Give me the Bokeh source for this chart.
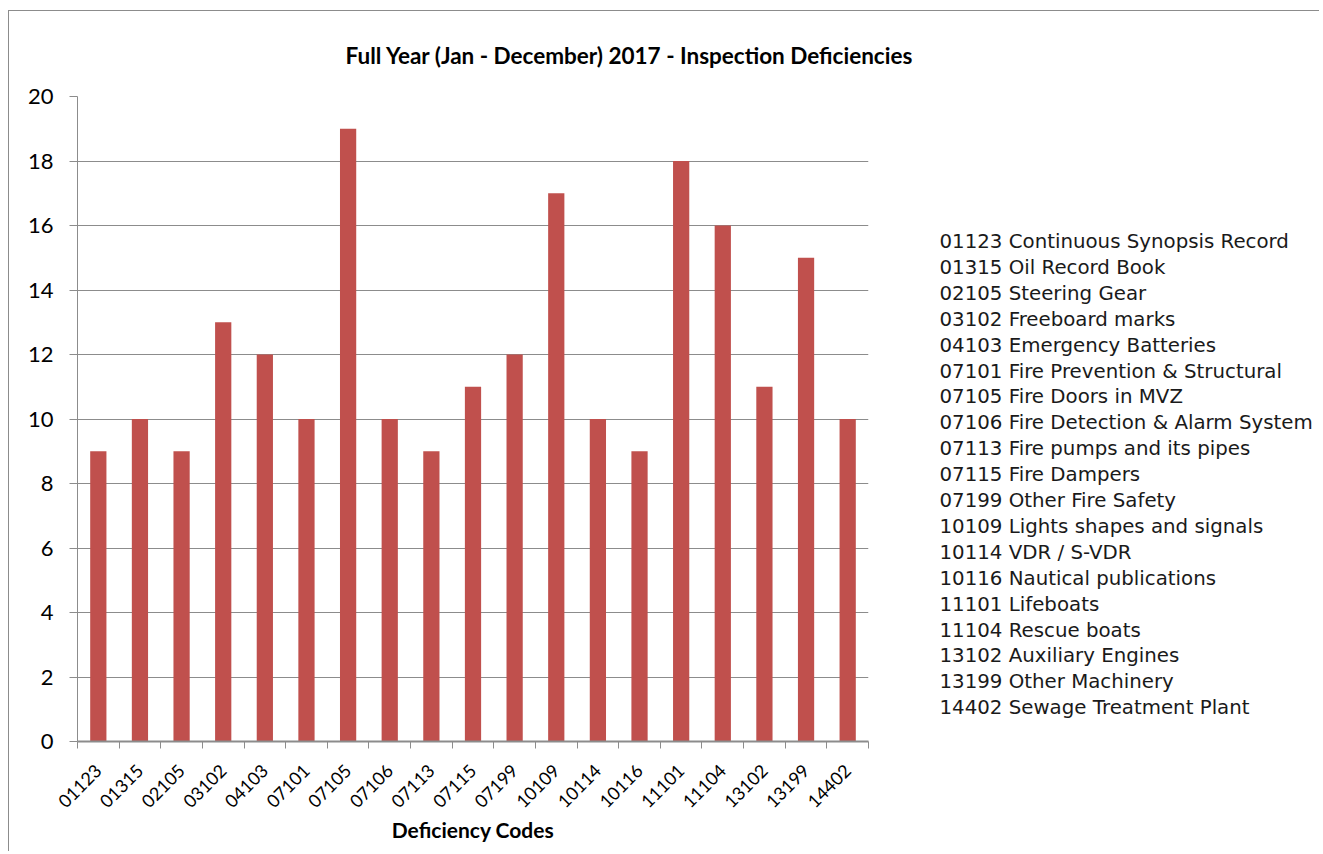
import math
from bokeh.plotting import figure
from bokeh.models import FixedTicker, ColumnDataSource, Range1d
from bokeh.layouts import row
from bokeh.core.properties import value
from bokeh.embed import file_html
from bokeh.resources import INLINE

codes = ["01123", "01315", "02105", "03102", "04103", "07101", "07105", "07106",
         "07113", "07115", "07199", "10109", "10114", "10116", "11101", "11104",
         "13102", "13199", "14402"]
counts = [9, 10, 9, 13, 12, 10, 19, 10, 9, 11, 12, 17, 10, 9, 18, 16, 11, 15, 10]
descriptions = ["Continuous Synopsis Record", "Oil Record Book", "Steering Gear",
                "Freeboard marks", "Emergency Batteries", "Fire Prevention & Structural",
                "Fire Doors in MVZ", "Fire Detection & Alarm System",
                "Fire pumps and its pipes", "Fire Dampers", "Other Fire Safety",
                "Lights shapes and signals", "VDR / S-VDR", "Nautical publications",
                "Lifeboats", "Rescue boats", "Auxiliary Engines", "Other Machinery",
                "Sewage Treatment Plant"]
y_ticks = list(range(0, 21, 2))
title_text = "Full Year  (Jan - December) 2017 -  Inspection Deficiencies"

H = 840
W1, W2 = 921, 389
FRAME_H = 645
n = len(codes)
pos = [i + 0.5 for i in range(n)]
src = ColumnDataSource(dict(x=pos, top=counts, code=codes))

FONT = "Lato"
TXT = "#000000"
GRID = "#8c8c8c"

# ---------------- main chart ----------------
p = figure(width=W1, height=H, output_backend="svg", toolbar_location=None,
           x_range=(0, n), y_range=(0, 20),
           min_border_left=68, min_border_right=62, min_border_top=85,
           min_border_bottom=110)
p.outline_line_color = None
p.background_fill_color = "white"
p.border_fill_color = "white"

p.vbar(x="x", top="top", bottom=0, width=0.39, source=src,
       fill_color="#C0504D", line_color=None)

p.title.text = title_text
p.title.align = "left"
p.title.offset = 268
p.title.standoff = 56
p.title.text_font = FONT
p.title.text_font_style = "bold"
p.title.text_font_size = "22.5px"
p.title.text_color = TXT

p.yaxis.ticker = FixedTicker(ticks=y_ticks)
p.yaxis.axis_line_color = GRID
p.yaxis.major_tick_line_color = GRID
p.yaxis.major_tick_out = 8
p.yaxis.major_tick_in = 0
p.yaxis.minor_tick_line_color = None
p.yaxis.major_label_text_font = FONT
p.yaxis.major_label_text_font_size = "22px"
p.yaxis.major_label_text_color = TXT
p.yaxis.major_label_standoff = 16
p.ygrid.grid_line_color = GRID
p.ygrid.ticker = FixedTicker(ticks=y_ticks)
p.xgrid.grid_line_color = None

p.xaxis.ticker = FixedTicker(ticks=pos, minor_ticks=list(range(n + 1)))
p.xaxis.major_label_overrides = {x: c for x, c in zip(pos, codes)}
p.xaxis.major_tick_line_color = None
p.xaxis.minor_tick_line_color = GRID
p.xaxis.minor_tick_out = 7
p.xaxis.minor_tick_in = 0
p.xaxis.axis_line_color = GRID
p.xaxis.axis_line_width = 2
p.xaxis.major_label_orientation = math.pi / 4
p.xaxis.major_label_text_font = FONT
p.xaxis.major_label_text_font_size = "18px"
p.xaxis.major_label_text_color = TXT
p.xaxis.major_label_standoff = 19
p.xaxis.axis_label = "Deficiency Codes"
p.xaxis.axis_label_text_font = FONT
p.xaxis.axis_label_text_font_style = "bold"
p.xaxis.axis_label_text_font_size = "21px"
p.xaxis.axis_label_text_color = TXT
p.xaxis.axis_label_standoff = 0

# ---------------- description list ----------------
# the row aligns this figure's frame with the chart's frame (645 px high)
ROW = 25.9       # pixels between lines
FIRST = 145.0    # pixel centre of first line below the frame top
top_val = -FIRST / ROW
bottom_val = top_val + FRAME_H / ROW
leg_src = ColumnDataSource(dict(
    x=[0] * n,
    y=list(range(n)),
    label=[f"{c} {d}" for c, d in zip(codes, descriptions)],
))
q = figure(width=W2, height=H, output_backend="svg", toolbar_location=None,
           x_range=Range1d(-9, W2 - 9),
           y_range=Range1d(bottom_val, top_val),
           x_axis_location=None, y_axis_location=None,
           min_border=0, min_border_left=0, min_border_right=0,
           min_border_top=0, min_border_bottom=0)
q.outline_line_color = None
q.grid.visible = False
q.background_fill_color = "white"
q.border_fill_color = "white"
q.text(x="x", y="y", text="label", source=leg_src,
       text_font=value("DejaVu Sans"), text_font_size="19.8px",
       text_align="left", text_baseline="middle", text_color="#1a1a1a")

layout = row(p, q)
layout.styles = {"border-left": "1px solid #8c8c8c", "border-top": "1px solid #8c8c8c",
                 "margin-left": "8px", "margin-top": "10px"}

open("out.html", "w").write(file_html(layout, INLINE))
